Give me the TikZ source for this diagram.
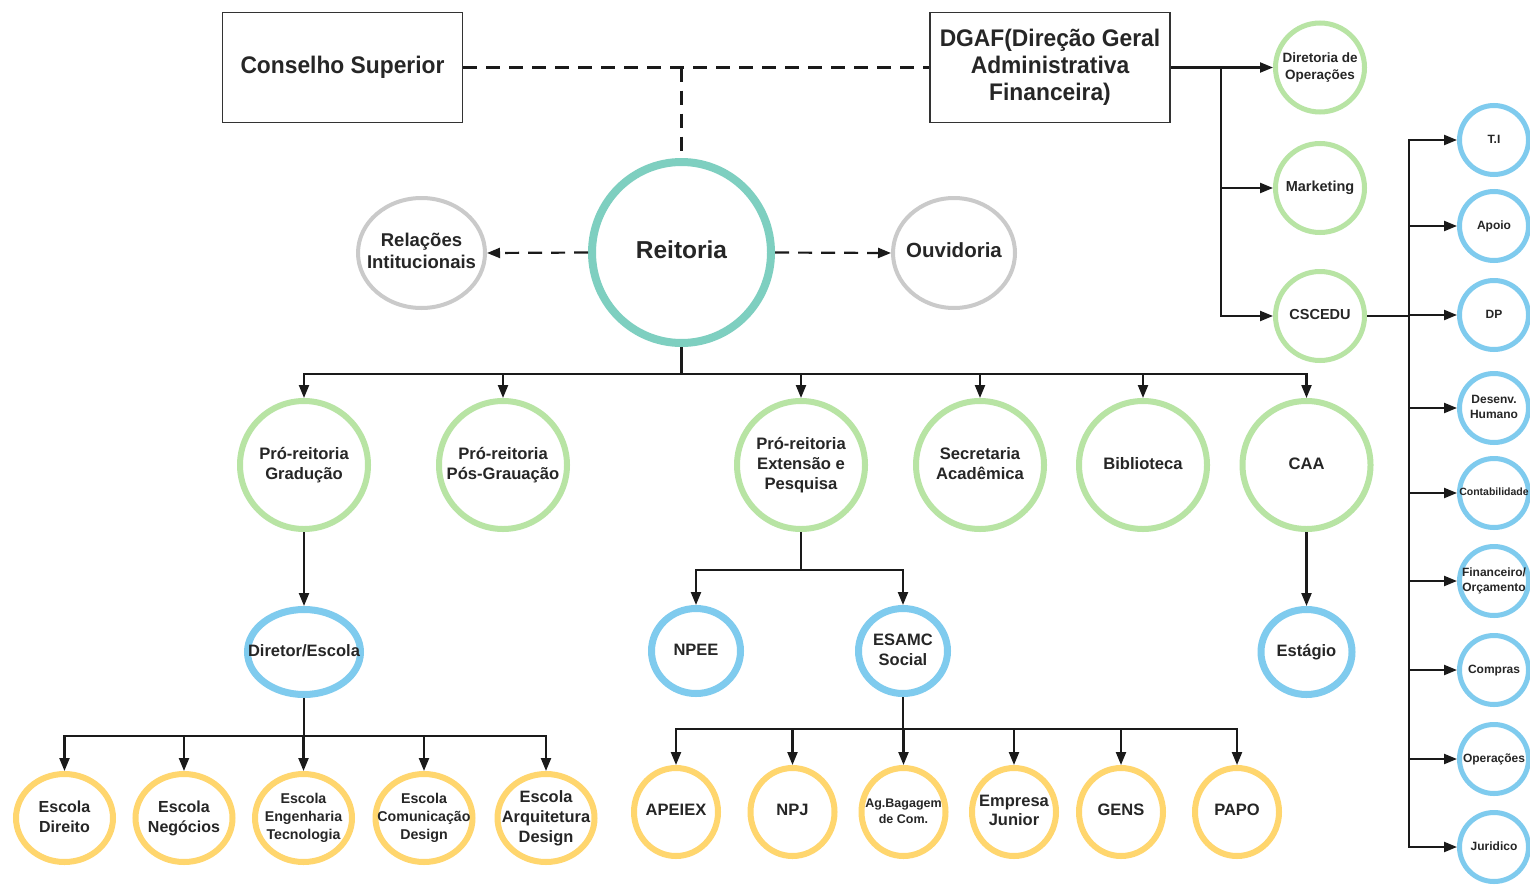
\documentclass[tikz,border=0pt]{standalone}
\usepackage{fontspec}
\setmainfont{Liberation Sans}
\newfontfamily\boxfont[FakeStretch=0.95]{Liberation Sans}
\usetikzlibrary{shapes.geometric,arrows.meta}
\newcommand\inbox[1]{\makebox[0pt]{\begin{tabular}{@{}c@{}}#1\end{tabular}}}
\definecolor{cteal}{HTML}{7ECFC0}
\definecolor{cgray}{HTML}{CACACA}
\definecolor{cgreen}{HTML}{B8E4A4}
\definecolor{cblue}{HTML}{7FCBEE}
\definecolor{cyellow}{HTML}{FFD66E}
\definecolor{cline}{HTML}{1A1A1A}
\newcommand\fs[2]{\fontsize{#1pt}{#2pt}\selectfont\bfseries}
\begin{document}
\begin{tikzpicture}[x=1pt,y=-1pt,
  oval/.style={ellipse, draw, inner sep=0pt, fill=white, text=black!85},
  rectbox/.style={draw=black!80, line width=1.5pt, minimum width=240pt, minimum height=110pt, inner sep=0pt, align=center, text=black!85, font=\boxfont\fs{24}{27}},
  reitst/.style={oval, draw=cteal, line width=8pt, minimum width=179pt, minimum height=181pt, font=\fs{24.5}{28}},
  grayst/.style={oval, draw=cgray, line width=4pt, minimum height=110pt},
  lvtwo/.style={oval, draw=cgreen, line width=6pt, minimum width=128pt, minimum height=128pt, font=\fs{16.6}{20}},
  lvthree/.style={oval, draw=cblue, line width=7pt, minimum height=85pt, font=\fs{16.5}{20}},
  escst/.style={oval, draw=cyellow, line width=6pt, minimum width=97pt, minimum height=88pt},
  socst/.style={oval, draw=cyellow, line width=6pt, minimum width=84pt, minimum height=88pt, font=\fs{16.5}{19}},
  rgreen/.style={oval, draw=cgreen, line width=5pt, minimum width=89pt, minimum height=89pt, font=\fs{14.5}{17}},
  rblue/.style={oval, draw=cblue, line width=5pt, minimum width=69pt, minimum height=69pt, font=\fs{12}{15}},
  conn/.style={draw=cline, line width=2.2pt},
  arr/.style={conn, -{Triangle[length=13pt,width=10pt]}},
  dline/.style={draw=cline, line width=2.2pt, dash pattern=on 14pt off 9pt},
  darr/.style={dline, -{Triangle[length=13pt,width=10pt]}}
]
\useasboundingbox[fill=white] (0,0) rectangle (1530,886);

% top boxes
\node[rectbox] (cons) at (342.5,67.5) {Conselho Superior};
\node[rectbox] (dgaf) at (1050,67.5) {DGAF(Direção Geral\\Administrativa\\Financeira)};

% reitoria level
\node[reitst] (reit) at (681.5,252.5) {\inbox{Reitoria}};
\node[grayst, minimum width=127pt, font=\fs{18.5}{22}] (rel) at (421.5,253) {\inbox{Relações\\Intitucionais}};
\node[grayst, minimum width=122pt, font=\fs{20.5}{22}] (ouv) at (954,253) {\inbox{Ouvidoria}};

% level 2
\node[lvtwo] (prg) at (304,465) {\inbox{Pró-reitoria\\Gradução}};
\node[lvtwo] (prp) at (503,465) {\inbox{Pró-reitoria\\Pós-Grauação}};
\node[lvtwo] (pre) at (801,465) {\inbox{Pró-reitoria\\Extensão e\\Pesquisa}};
\node[lvtwo] (sec) at (980,465) {\inbox{Secretaria\\Acadêmica}};
\node[lvtwo] (bib) at (1143,465) {\inbox{Biblioteca}};
\node[lvtwo] (caa) at (1306.5,465) {\inbox{CAA}};

% level 3
\node[lvthree, minimum width=113pt] (dir) at (304,652) {\inbox{Diretor/Escola}};
\node[lvthree, minimum width=89pt] (npee) at (696,651) {\inbox{NPEE}};
\node[lvthree, minimum width=89pt] (esamc) at (903,651) {\inbox{ESAMC\\Social}};
\node[lvthree, minimum width=91pt] (est) at (1306.5,652) {\inbox{Estágio}};

% schools
\node[escst, font=\fs{16}{20}] (e1) at (64.5,818) {\inbox{Escola\\Direito}};
\node[escst, font=\fs{16}{20}] (e2) at (184,818) {\inbox{Escola\\Negócios}};
\node[escst, font=\fs{14.2}{18}] (e3) at (303.5,818) {\inbox{Escola\\Engenharia\\Tecnologia}};
\node[escst, font=\fs{14.2}{18}] (e4) at (424,818) {\inbox{Escola\\Comunicação\\Design}};
\node[escst, font=\fs{16.4}{20}] (e5) at (546,818) {\inbox{Escola\\Arquitetura\\Design}};

% ESAMC social children
\node[socst] (s1) at (676,812) {\inbox{APEIEX}};
\node[socst] (s2) at (792.5,812) {\inbox{NPJ}};
\node[socst, font=\fs{12.5}{16}] (s3) at (903.5,812) {\inbox{Ag.Bagagem\\de Com.}};
\node[socst] (s4) at (1014,812) {\inbox{Empresa\\Junior}};
\node[socst] (s5) at (1121,812) {\inbox{GENS}};
\node[socst] (s6) at (1237,812) {\inbox{PAPO}};

% right green
\node[rgreen, font=\fs{13.5}{17}] (dop) at (1320,67.5) {\inbox{Diretoria de\\Operações}};
\node[rgreen] (mkt) at (1320,188) {\inbox{Marketing}};
\node[rgreen] (csc) at (1320,316) {\inbox{CSCEDU}};

% right blue
\node[rblue] (ti) at (1494,140) {\inbox{T.I}};
\node[rblue] (apo) at (1494,226) {\inbox{Apoio}};
\node[rblue] (dp) at (1494,315) {\inbox{DP}};
\node[rblue] (dh) at (1494,408) {\inbox{Desenv.\\Humano}};
\node[rblue, font=\fs{10.5}{12}] (cont) at (1494,493) {\inbox{Contabilidade}};
\node[rblue, font=\fs{12}{15}] (fin) at (1494,581) {\inbox{Financeiro/\\Orçamento}};
\node[rblue] (comp) at (1494,670) {\inbox{Compras}};
\node[rblue] (oper) at (1494,759) {\inbox{Operações}};
\node[rblue] (jur) at (1494,847) {\inbox{Juridico}};

% dashed connections
\coordinate (tj) at (681.5,67.5);
\draw[dline] (cons.east) -- (dgaf.west);
\draw[dline] (tj) -- (reit.north);
\draw[darr] (reit.west) -- (rel.east);
\draw[darr] (reit.east) -- (ouv.west);

% reitoria bus
\coordinate (b1) at (681.5,374);
\draw[conn] (reit.south) -- (b1);
\foreach \n in {prg,prp,pre,sec,bib,caa} \draw[arr] (b1) -| (\n.north);

% level 3 links
\draw[arr] (prg.south) -- (dir.north);
\draw[arr] (caa.south) -- (est.north);
\coordinate (b2) at (801,570);
\draw[conn] (pre.south) -- (b2);
\draw[arr] (b2) -| (npee.north);
\draw[arr] (b2) -| (esamc.north);

% schools bus
\coordinate (b3) at (304,736);
\draw[conn] (dir.south) -- (b3);
\foreach \n in {e1,e2,e3,e4,e5} \draw[arr] (b3) -| (\n.north);

% social bus
\coordinate (b4) at (903,729);
\draw[conn] (esamc.south) -- (b4);
\foreach \n in {s1,s2,s3,s4,s5,s6} \draw[arr] (b4) -| (\n.north);

% DGAF branch
\coordinate (b5) at (1221,67.5);
\draw[conn] (dgaf.east) -- (b5);
\draw[arr] (b5) -- (dop.west);
\draw[arr] (b5) |- (mkt.west);
\draw[arr] (b5) |- (csc.west);

% CSCEDU branch
\coordinate (b6) at (1409,316);
\draw[conn] (csc.east) -- (b6);
\foreach \n in {ti,apo,dp,dh,cont,fin,comp,oper,jur} \draw[arr] (b6) |- (\n.west);
\end{tikzpicture}
\end{document}
